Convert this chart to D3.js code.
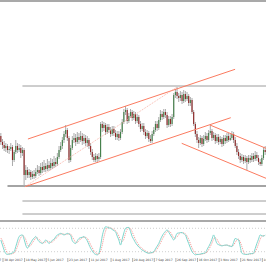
<!DOCTYPE html>
<html>
<head>
<meta charset="utf-8">
<script src="https://cdn.jsdelivr.net/npm/d3@7"></script>
<style>
  html, body { margin: 0; padding: 0; background: #fff; }
  svg { display: block; }
</style>
</head>
<body>
<script>
// daily candles (price units)
const opens = [1264,1258,1255,1252,1254,1250,1251,1253,1240,1248,1254,1250,1252,1247,1250,1225,1230,1225,1228,1223,
  1226,1224,1228,1230,1227,1233,1230,1234,1231,1235,1232,1237,1234,1238,1236,1243,1250,1254,1260,1266,
  1270,1262,1240,1252,1260,1262,1258,1263,1260,1264,1259,1262,1257,1260,1254,1248,1243,1240,1244,1241,
  1243,1276,1272,1275,1268,1273,1270,1266,1271,1267,1263,1266,1262,1268,1278,1288,1290,1279,1284,1288,
  1282,1286,1279,1283,1276,1271,1274,1268,1264,1267,1261,1259,1266,1270,1276,1272,1280,1286,1283,1288,
  1285,1275,1281,1276,1283,1305,1308,1304,1302,1305,1299,1306,1301,1304,1297,1300,1288,1276,1266,1260,
  1257,1262,1256,1261,1264,1260,1267,1269,1262,1265,1259,1263,1258,1261,1256,1262,1259,1264,1260,1262,
  1266,1260,1254,1248,1244,1240,1243,1239,1242,1238,1242,1240,1244,1241,1245,1242,1238,1236,1242,1250]
const highs = [1267,1261,1259,1257,1256,1254,1257,1255,1250,1260,1257,1256,1255,1253,1252,1235,1233,1231,1230,1229,
  1230,1232,1235,1234,1237,1238,1240,1237,1241,1239,1242,1241,1244,1242,1247,1254,1258,1263,1269,1275,
  1272,1264,1255,1264,1267,1266,1268,1267,1269,1267,1266,1265,1264,1262,1257,1251,1246,1247,1246,1247,
  1278,1279,1278,1277,1276,1276,1273,1274,1274,1270,1269,1269,1271,1281,1291,1294,1292,1287,1291,1290,
  1289,1288,1286,1285,1279,1277,1277,1271,1270,1269,1265,1269,1273,1279,1279,1283,1290,1289,1291,1291,
  1288,1284,1284,1286,1307,1311,1313,1307,1309,1308,1310,1309,1308,1306,1303,1302,1290,1278,1269,1263,
  1265,1264,1265,1268,1267,1270,1275,1271,1268,1267,1266,1266,1264,1263,1265,1265,1267,1267,1266,1269,
  1268,1263,1257,1251,1247,1246,1245,1245,1244,1245,1245,1247,1247,1249,1248,1245,1241,1245,1253,1254]
const lows = [1255,1251,1249,1248,1247,1246,1249,1234,1238,1246,1247,1248,1242,1244,1214,1220,1222,1222,1220,1221,
  1221,1222,1226,1224,1225,1227,1228,1228,1229,1229,1230,1231,1232,1233,1234,1241,1248,1251,1257,1263,
  1259,1237,1238,1250,1257,1254,1256,1256,1258,1255,1256,1254,1253,1251,1245,1240,1238,1238,1237,1239,
  1241,1268,1269,1265,1266,1267,1263,1264,1264,1260,1260,1259,1260,1266,1276,1285,1276,1277,1282,1279,
  1280,1276,1277,1273,1268,1269,1265,1261,1262,1258,1257,1257,1264,1268,1269,1270,1278,1280,1281,1282,
  1272,1273,1273,1274,1281,1302,1301,1298,1299,1296,1297,1298,1299,1294,1294,1286,1274,1263,1257,1252,
  1255,1253,1254,1259,1257,1258,1265,1259,1260,1256,1257,1255,1256,1253,1254,1256,1257,1258,1259,1260,
  1257,1252,1245,1241,1237,1238,1236,1237,1230,1236,1237,1238,1238,1239,1239,1235,1234,1234,1240,1245]
const closes = [1258,1255,1252,1254,1250,1251,1253,1240,1248,1254,1250,1252,1247,1250,1225,1230,1225,1228,1223,1226,
  1224,1228,1230,1227,1233,1230,1234,1231,1235,1232,1237,1234,1238,1236,1243,1250,1254,1260,1266,1270,
  1262,1240,1252,1260,1262,1258,1263,1260,1264,1259,1262,1257,1260,1254,1248,1243,1240,1244,1241,1243,
  1276,1272,1275,1268,1273,1270,1266,1271,1267,1263,1266,1262,1268,1278,1288,1290,1279,1284,1288,1282,
  1286,1279,1283,1276,1271,1274,1268,1264,1267,1261,1259,1266,1270,1276,1272,1280,1286,1283,1288,1285,
  1275,1281,1276,1283,1305,1308,1304,1302,1305,1299,1306,1301,1304,1297,1300,1288,1276,1266,1260,1257,
  1262,1256,1261,1264,1260,1267,1269,1262,1265,1259,1263,1258,1261,1256,1262,1259,1264,1260,1262,1266,
  1260,1254,1248,1244,1240,1243,1239,1242,1238,1242,1240,1244,1241,1245,1242,1238,1236,1242,1250,1248]

// stochastic oscillator (main and signal)
const stochMain = [50,37,24,15,13,14,15,17,20,33,47,59,62,63,52,37,29,36,43,50,
  55,59,52,46,43,41,45,50,46,41,45,49,52,58,63,65,67,65,63,65,
  67,65,62,48,43,41,48,54,56,57,59,54,48,38,29,22,16,13,12,16,
  35,60,76,84,83,81,80,77,74,71,60,50,37,52,68,80,82,82,72,59,
  51,43,37,32,28,24,22,19,17,16,17,18,20,27,34,41,51,60,67,72,
  76,70,63,56,50,58,67,68,69,69,66,63,52,41,30,20,15,12,13,13,
  14,15,16,17,25,33,41,52,63,52,41,38,36,35,36,37,37,35,34,33,
  44,54,52,50,33,16,14,13,13,14,15,15,16,28,41,52,63,61,60,63]
const stochSignal = [55,48,37,25,17,14,14,15,17,23,33,46,56,61,59,51,39,34,36,43,
  49,55,55,52,47,43,43,45,47,46,44,45,49,53,58,62,65,66,65,64,
  65,66,65,58,51,44,44,48,53,56,57,57,54,47,38,30,22,17,14,14,
  21,37,57,73,81,83,81,79,77,74,68,60,49,46,52,67,77,81,79,71,
  61,51,44,37,32,28,25,22,19,17,17,17,18,22,27,34,42,51,59,66,
  72,73,70,63,56,55,58,64,68,69,68,66,60,52,41,30,22,16,13,13,
  13,14,15,16,19,25,33,42,52,56,52,44,38,36,36,36,37,36,35,34,
  37,44,50,52,45,33,21,14,13,13,14,15,15,20,28,40,52,59,61,61]
const stochLevels = [80, 20]

// horizontal price levels and the candle index where each starts
const levels = [1314, 1214, 1199, 1186]
const levelStart = [13, 4, 13, 13]

// trend lines: [index1, price1, index2, price2]
const channelUp = [[16.3, 1261, 140.9, 1330.7], [14.5, 1213.3, 138.3, 1282.3]]
const channelDown = [[125.8, 1275, 159.5, 1251.7], [108.8, 1256.7, 159.5, 1221.7]]
const midLine = [14.5, 1213.3, 106, 1313]

// date labels on the time axis
const tickIdx = [-12, 1, 14, 27, 40, 53, 66, 79, 92, 105, 118, 131, 144, 157]
const tickLabels = ['12 Apr 2017', '30 Apr 2017', '18 May 2017', '5 Jun 2017', '23 Jun 2017', '11 Jul 2017',
  '1 Aug 2017', '20 Aug 2017', '7 Sep 2017', '26 Sep 2017', '16 Oct 2017', '3 Nov 2017', '21 Nov 2017', '10 Dec 2017']

const width = 266, height = 266

const x = d3.scaleLinear().domain([-0.5, closes.length - 0.5]).range([0, width])
const y = d3.scaleLinear().domain([1214, 1400]).range([186, 0])
const ys = d3.scaleLinear().domain([0, 100]).range([259.5, 220.5])

const svg = d3.select('body').append('svg')
    .attr('width', width)
    .attr('height', height)

// frame bars
svg.append('rect').attr('x', 0).attr('y', 0).attr('width', width).attr('height', 2).attr('fill', '#a9a9a9')
svg.append('rect').attr('x', 0).attr('y', 220).attr('width', width).attr('height', 2).attr('fill', '#a9a9a9')

// horizontal levels
svg.selectAll('.level')
    .data(levels)
    .enter().append('line')
    .attr('class', 'level')
    .attr('x1', (d, i) => x(levelStart[i]))
    .attr('x2', width)
    .attr('y1', d => y(d))
    .attr('y2', d => y(d))
    .attr('stroke', (d, i) => i === 1 ? '#a4a4a4' : '#9c9c9c')
    .attr('stroke-width', (d, i) => i === 1 ? 2 : 1)

// candles
const idx = d3.range(closes.length)
svg.selectAll('.wick')
    .data(idx)
    .enter().append('line')
    .attr('class', 'wick')
    .attr('x1', i => x(i))
    .attr('x2', i => x(i))
    .attr('y1', i => y(highs[i]))
    .attr('y2', i => y(lows[i]))
    .attr('stroke', '#ababab')
    .attr('stroke-width', 1)

svg.selectAll('.body')
    .data(idx)
    .enter().append('rect')
    .attr('class', 'body')
    .attr('x', i => x(i) - 0.55)
    .attr('width', 1.1)
    .attr('y', i => y(Math.max(opens[i], closes[i])))
    .attr('height', i => Math.max(0.6, Math.abs(y(opens[i]) - y(closes[i]))))
    .attr('fill', i => closes[i] >= opens[i] ? '#43804a' : '#8e2424')

// trend lines
const trend = svg.append('g')
trend.selectAll('.chan')
    .data(channelUp.concat(channelDown))
    .enter().append('line')
    .attr('class', 'chan')
    .attr('x1', d => x(d[0]))
    .attr('y1', d => y(d[1]))
    .attr('x2', d => x(d[2]))
    .attr('y2', d => y(d[3]))
    .attr('stroke', '#fb7b60')
    .attr('stroke-width', 1)

trend.append('line')
    .attr('x1', x(midLine[0]))
    .attr('y1', y(midLine[1]))
    .attr('x2', x(midLine[2]))
    .attr('y2', y(midLine[3]))
    .attr('stroke', '#f7a597')
    .attr('stroke-width', 0.8)
    .attr('stroke-dasharray', '1,1')

// stochastic panel
svg.selectAll('.slevel')
    .data(stochLevels)
    .enter().append('line')
    .attr('class', 'slevel')
    .attr('x1', 0)
    .attr('x2', width)
    .attr('y1', d => ys(d))
    .attr('y2', d => ys(d))
    .attr('stroke', '#c4c4c4')
    .attr('stroke-width', 0.8)
    .attr('stroke-dasharray', '1,2')

const sline = d3.line().x((d, i) => x(i)).y(d => ys(d)).curve(d3.curveMonotoneX)

svg.append('path')
    .datum(stochSignal)
    .attr('d', sline)
    .attr('fill', 'none')
    .attr('stroke', '#f59490')
    .attr('stroke-width', 1)
    .attr('stroke-dasharray', '1,1')

svg.append('path')
    .datum(stochMain)
    .attr('d', sline)
    .attr('fill', 'none')
    .attr('stroke', '#7dd6cd')
    .attr('stroke-width', 1)

// time axis
const axis = svg.append('g')
    .attr('transform', 'translate(0,258)')
    .call(d3.axisBottom(x)
        .tickValues(tickIdx)
        .tickFormat((d, i) => tickLabels[i])
        .tickSize(4)
        .tickSizeOuter(0))
axis.select('.domain').remove()
axis.selectAll('line').attr('stroke', '#777').attr('stroke-width', 0.6)
axis.selectAll('text')
    .attr('x', 1.2)
    .attr('y', 0.6)
    .attr('dy', '0.8em')
    .style('text-anchor', 'start')
    .style('font-family', 'DejaVu Sans, sans-serif')
    .style('font-size', '3px')
    .attr('fill', '#444')
</script>
</body>
</html>
